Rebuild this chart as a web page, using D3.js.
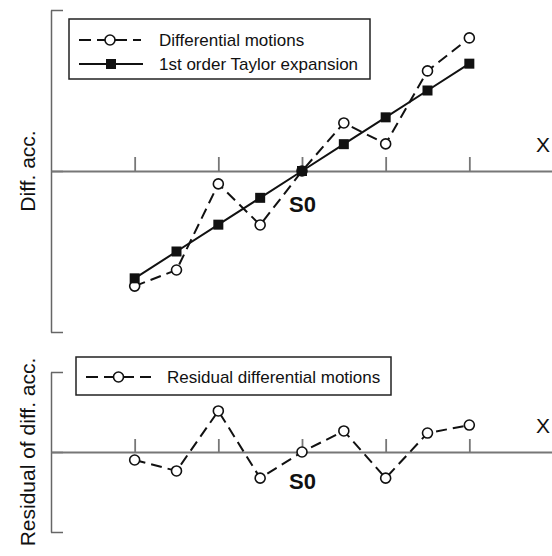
<html>
<head>
<script src="https://d3js.org/d3.v7.min.js"></script>
<style>
  body { margin: 0; background: #fff; }
  svg { font-family: Arial, "Liberation Sans", sans-serif; }
  .zero path, .zero line { stroke: #777; stroke-width: 1.8; }
  .yaxis path, .yaxis line { stroke: #666; stroke-width: 1.5; }
</style>
</head>
<body>
<div id="chart"></div>
<script>
// sample index, S0 is at 0
var steps = [-4, -3, -2, -1, 0, 1, 2, 3, 4];
var diffMotions = [-4.29, -3.69, -0.48, -2.01, 0, 1.79, 1.01, 3.73, 4.96];
var taylor1st = [-4, -3, -2, -1, 0, 1, 2, 3, 4];
var residual = [-0.30, -0.71, 1.54, -0.98, 0, 0.79, -0.98, 0.71, 1.01];
var xTicks = [-4, -2, 0, 2, 4];

var width = 552, height = 556;

var svg = d3.select("#chart").append("svg")
    .attr("width", width)
    .attr("height", height);

var x = d3.scaleLinear().domain([-6, 6]).range([51, 553]);
var yTop = d3.scaleLinear().domain([-6, 6]).range([332, 10]);
var yBot = d3.scaleLinear().domain([-3, 3]).range([532, 372]);

function drawAxes(y, tickLen, label, labelX, s0Off) {
    var d = y.domain();
    svg.append("g")
        .attr("class", "yaxis")
        .attr("transform", "translate(" + x(-6) + ",0)")
        .call(d3.axisRight(y).tickValues([d[0], 0, d[1]]).tickSize(12).tickSizeOuter(0).tickFormat(""));
    svg.append("g")
        .attr("class", "zero")
        .attr("transform", "translate(0," + y(0) + ")")
        .call(d3.axisTop(x).tickValues(xTicks).tickSize(tickLen).tickSizeOuter(0).tickFormat(""));
    svg.append("text")
        .attr("transform", "translate(" + labelX + "," + y(0) + ") rotate(-90)")
        .attr("text-anchor", "middle")
        .attr("font-size", 21)
        .attr("fill", "#111")
        .text(label);
    svg.append("text")
        .attr("x", 536)
        .attr("y", y(0) - 19)
        .attr("font-size", 21)
        .attr("fill", "#111")
        .text("X");
    svg.append("text")
        .attr("x", x(0) - 13)
        .attr("y", y(0) + s0Off)
        .attr("font-size", 22)
        .attr("font-weight", "bold")
        .attr("fill", "#111")
        .text("S0");
}

function dashedCircles(values, y) {
    var line = d3.line().x((d, i) => x(steps[i])).y(d => y(d));
    svg.append("path")
        .attr("d", line(values))
        .attr("fill", "none")
        .attr("stroke", "#111")
        .attr("stroke-width", 2)
        .attr("stroke-dasharray", "11,6");
    svg.append("g").selectAll("circle")
        .data(values).enter()
        .append("circle")
        .attr("cx", (d, i) => x(steps[i]))
        .attr("cy", d => y(d))
        .attr("r", 5)
        .attr("fill", "#fff")
        .attr("stroke", "#111")
        .attr("stroke-width", 1.6);
}

function solidSquares(values, y) {
    var line = d3.line().x((d, i) => x(steps[i])).y(d => y(d));
    svg.append("path")
        .attr("d", line(values))
        .attr("fill", "none")
        .attr("stroke", "#111")
        .attr("stroke-width", 2);
    svg.append("g").selectAll("rect")
        .data(values).enter()
        .append("rect")
        .attr("x", (d, i) => x(steps[i]) - 5)
        .attr("y", d => y(d) - 5)
        .attr("width", 10)
        .attr("height", 10)
        .attr("fill", "#111");
}

/* top panel */
drawAxes(yTop, 14, "Diff. acc.", 35, 41);
dashedCircles(diffMotions, yTop);
solidSquares(taylor1st, yTop);

/* bottom panel */
drawAxes(yBot, 13, "Residual of diff. acc.", 35, 37);
dashedCircles(residual, yBot);

/* legends */
function legendBox(x0, y0, w, h) {
    svg.append("rect")
        .attr("x", x0).attr("y", y0)
        .attr("width", w).attr("height", h)
        .attr("fill", "#fff")
        .attr("stroke", "#222")
        .attr("stroke-width", 1.5);
}
function legendItem(x0, x1, cy, type, label, tx) {
    svg.append("line")
        .attr("x1", x0).attr("x2", x1)
        .attr("y1", cy).attr("y2", cy)
        .attr("stroke", "#111")
        .attr("stroke-width", 2)
        .attr("stroke-dasharray", type == "circle" ? "12,6" : null);
    var cx = (x0 + x1) / 2;
    if (type == "circle") {
        svg.append("circle").attr("cx", cx).attr("cy", cy).attr("r", 5)
            .attr("fill", "#fff").attr("stroke", "#111").attr("stroke-width", 1.6);
    } else {
        svg.append("rect").attr("x", cx - 5).attr("y", cy - 5)
            .attr("width", 10).attr("height", 10).attr("fill", "#111");
    }
    svg.append("text")
        .attr("x", tx).attr("y", cy + 6)
        .attr("font-size", 17)
        .attr("fill", "#111")
        .text(label);
}

legendBox(69, 19, 301, 60);
legendItem(79, 141, 40, "circle", "Differential motions", 159);
legendItem(79, 143, 64, "square", "1st order Taylor expansion", 159);

legendBox(76, 357, 315, 38);
legendItem(86, 151, 377, "circle", "Residual differential motions", 167);
</script>
</body>
</html>
